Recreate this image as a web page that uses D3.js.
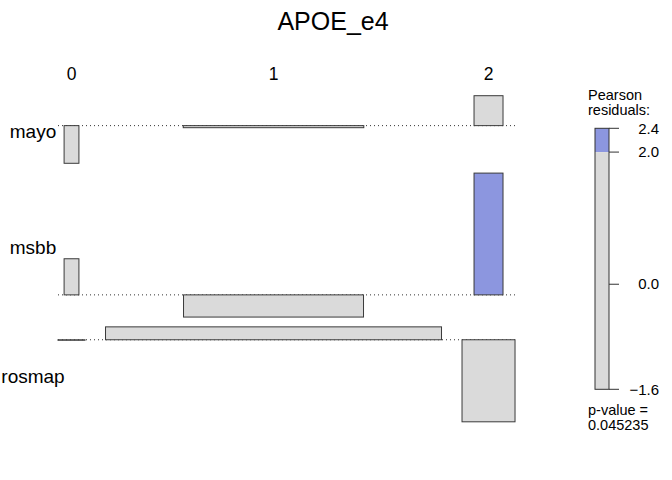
<!DOCTYPE html>
<html><head><meta charset="utf-8">
<script src="https://cdn.jsdelivr.net/npm/d3@7"></script>
<style>body{margin:0;background:#fff}svg{display:block}text{font-family:"Liberation Sans",Arial,Helvetica,sans-serif;fill:#000}</style>
</head><body>
<svg id="c" width="672" height="480"></svg>
<script>
const title = "APOE_e4";
const rows = ["mayo", "msbb", "rosmap"];
const cols = ["0", "1", "2"];
// expected counts per row (columns 0,1,2)
const expMayo = [2.2, 326, 8.4];
const expMsbb = [2.2, 324, 8.4];
const expRosmap = [7.3, 1129, 28.1];
// Pearson residuals per row
const resMayo = [-0.73, -0.04, 0.58];
const resMsbb = [0.70, -0.43, 2.36];
const resRosmap = [-0.01, 0.25, -1.59];
const legendTicks = [2.36, 2.0, 0.0, -1.59];
const pValue = "0.045235";

const expected = [expMayo, expMsbb, expRosmap];
const residuals = [resMayo, resMsbb, resRosmap];

const svg = d3.select("#c");

// scales
const allExp = expected.flat();
const wScale = d3.scaleSqrt().domain([0, d3.max(allExp)]).range([0, 336]);
const kPerUnit = 51.6;
const hScale = d3.scaleLinear().domain([0, 1]).range([0, kPerUnit]);

// column layout
const colW = cols.map((c, j) => d3.max(expected, r => wScale(r[j])));
const colGap = 20.5, x0 = 58;
const colX = [];
let cx = x0;
colW.forEach((w, j) => { colX.push(cx); cx += w + colGap; });
const xEnd = colX[2] + colW[2];
const colCenter = colX.map((x, j) => x + colW[j] / 2);

// row layout
const rowGap = 9.8, y0 = 95.7;
const rowInfo = [];
let cy = y0;
residuals.forEach(r => {
  const up = hScale(Math.max(0, d3.max(r)));
  const dn = hScale(Math.max(0, -d3.min(r)));
  rowInfo.push({top: cy, base: cy + up, bottom: cy + up + dn});
  cy += up + dn + rowGap;
});

// title
svg.append("text").attr("x", 333).attr("y", 30).attr("text-anchor", "middle")
  .style("font-size", "25px").text(title);

// column labels
svg.selectAll(".cl").data(cols).join("text")
  .attr("x", (d, j) => colCenter[j]).attr("y", 80).attr("text-anchor", "middle")
  .style("font-size", "17.5px").text(d => d);

// row labels
svg.selectAll(".rl").data(rows).join("text")
  .attr("x", 33).attr("y", (d, i) => (rowInfo[i].top + rowInfo[i].bottom) / 2 + 9)
  .attr("text-anchor", "middle").style("font-size", "19px").text(d => d);

// baselines
svg.selectAll(".bl").data(rowInfo).join("line")
  .attr("x1", x0).attr("x2", xEnd).attr("y1", d => d.base).attr("y2", d => d.base)
  .attr("stroke", "#333").attr("stroke-width", 1).attr("stroke-dasharray", "1,3");

const fillFor = r => r > 2 ? "#8C96DF" : (r < -2 ? "#DF8C8C" : "#DADADA");

// bars
const cells = [];
residuals.forEach((r, i) => r.forEach((v, j) => cells.push({i, j, v, e: expected[i][j]})));
svg.selectAll(".bar").data(cells).join("rect")
  .attr("x", d => colCenter[d.j] - wScale(d.e) / 2)
  .attr("width", d => wScale(d.e))
  .attr("y", d => d.v >= 0 ? rowInfo[d.i].base - hScale(d.v) : rowInfo[d.i].base)
  .attr("height", d => Math.abs(hScale(d.v)))
  .attr("fill", d => fillFor(d.v))
  .attr("stroke", "#3a3a3a").attr("stroke-width", 1);

// legend
const lg = svg.append("g");
lg.append("text").attr("x", 588).attr("y", 99.5).style("font-size", "14.5px").text("Pearson");
lg.append("text").attr("x", 588).attr("y", 114.8).style("font-size", "14.5px").text("residuals:");
const rMax = legendTicks[0], rMin = legendTicks[legendTicks.length - 1];
const lScale = d3.scaleLinear().domain([rMin, rMax]).range([389.3, 128.3]);
const lx = 595, lw = 14;
lg.append("rect").attr("x", lx).attr("y", lScale(rMax)).attr("width", lw)
  .attr("height", lScale(2) - lScale(rMax)).attr("fill", "#8C96DF");
lg.append("rect").attr("x", lx).attr("y", lScale(2)).attr("width", lw)
  .attr("height", lScale(rMin) - lScale(2)).attr("fill", "#DADADA");
lg.append("rect").attr("x", lx).attr("y", lScale(rMax)).attr("width", lw)
  .attr("height", lScale(rMin) - lScale(rMax)).attr("fill", "none")
  .attr("stroke", "#333").attr("stroke-width", 1);
lg.selectAll(".tk").data(legendTicks).join("line")
  .attr("x1", lx + lw).attr("x2", lx + lw + 10)
  .attr("y1", d => lScale(d)).attr("y2", d => lScale(d))
  .attr("stroke", "#333").attr("stroke-width", 1);
lg.selectAll(".tl").data(legendTicks).join("text")
  .attr("x", 659).attr("y", d => lScale(d) + 5.2).attr("text-anchor", "end")
  .style("font-size", "15px").text(d => d3.format(".1f")(d));
lg.append("text").attr("x", 588).attr("y", 414.5).style("font-size", "14.5px").text("p-value =");
lg.append("text").attr("x", 588).attr("y", 429.8).style("font-size", "14.5px").text(pValue);
</script>
</body></html>
